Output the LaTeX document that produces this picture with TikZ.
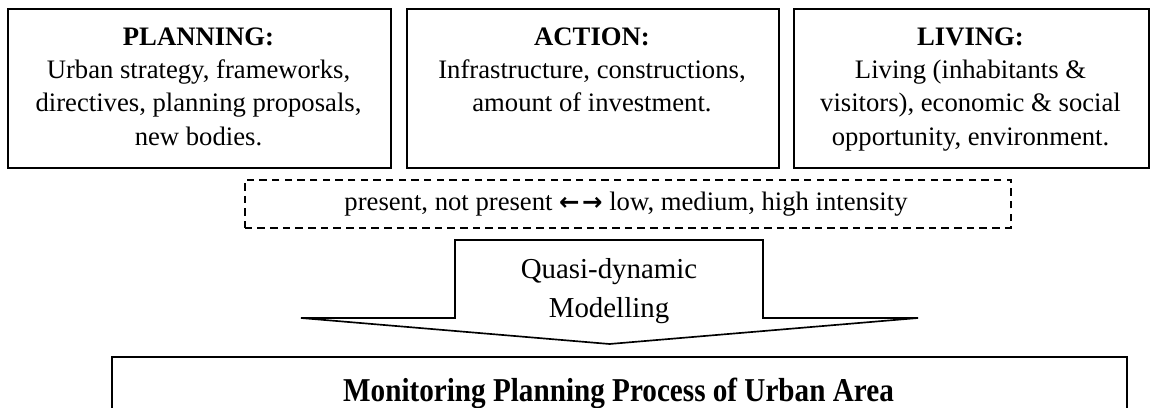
\documentclass[tikz,border=0pt]{standalone}
\usepackage{fontspec}
\setmainfont{Liberation Serif}
\newfontfamily\arrowfont{DejaVu Sans}
\usepackage{graphicx}
\begin{document}
\begin{tikzpicture}[x=0.45pt,y=-0.45pt,
  box/.style={draw, line width=0.85pt, inner sep=0pt, anchor=north west},
  dbox/.style={draw, line width=0.7pt, dash pattern=on 3.4pt off 2.3pt, inner sep=0pt, anchor=north west},
  boxtext/.style={anchor=north, align=center, inner sep=0pt, font=\fontsize{12}{15}\selectfont},
  blockarrow/.style={draw, line width=0.75pt, line join=miter}]
\clip (0,0) rectangle (1151,408);
% top boxes
\node[box, minimum width=383*0.45pt, minimum height=159*0.45pt] (plan) at (7,8) {};
\node[box, minimum width=372*0.45pt, minimum height=159*0.45pt] (act) at (406,8) {};
\node[box, minimum width=355*0.45pt, minimum height=159*0.45pt] (liv) at (793,8) {};
\node[boxtext] (plant) at (198.5,27) {\textbf{PLANNING:}\\Urban strategy, frameworks,\\directives, planning proposals,\\new bodies.};
\node[boxtext] (actt) at (592,27) {\textbf{ACTION:}\\Infrastructure, constructions,\\amount of investment.};
\node[boxtext] (livt) at (970.5,27) {\textbf{LIVING:}\\Living (inhabitants \&\\visitors), economic \& social\\opportunity, environment.};
% dashed box
\node[dbox, minimum width=766*0.45pt, minimum height=48*0.45pt] (scale) at (244,179) {};
\node[anchor=base, inner sep=0pt, font=\fontsize{12}{15}\selectfont] (scalet) at (626,211) {present, not present {\arrowfont\bfseries\fontsize{11}{15}\selectfont ←\kern0.1em→} low, medium, high intensity};
% block arrow
\draw[blockarrow] (455,318) -- (455,240) -- (763,240) -- (763,318) -- (918,318) -- (609.5,344) -- (301,318) -- cycle;
\node[anchor=north, align=center, inner sep=0pt, font=\fontsize{13}{17.5}\selectfont] (model) at (609,258) {Quasi-dynamic\\Modelling};
% bottom box
\node[box, minimum width=1015*0.45pt, minimum height=80*0.45pt] (mon) at (111,356) {};
\node[anchor=base, inner sep=0pt, font=\fontsize{15}{18}\selectfont\bfseries] (mont) at (618.5,402) {\scalebox{0.875}[1]{Monitoring Planning Process of Urban Area}};
\end{tikzpicture}
\end{document}
